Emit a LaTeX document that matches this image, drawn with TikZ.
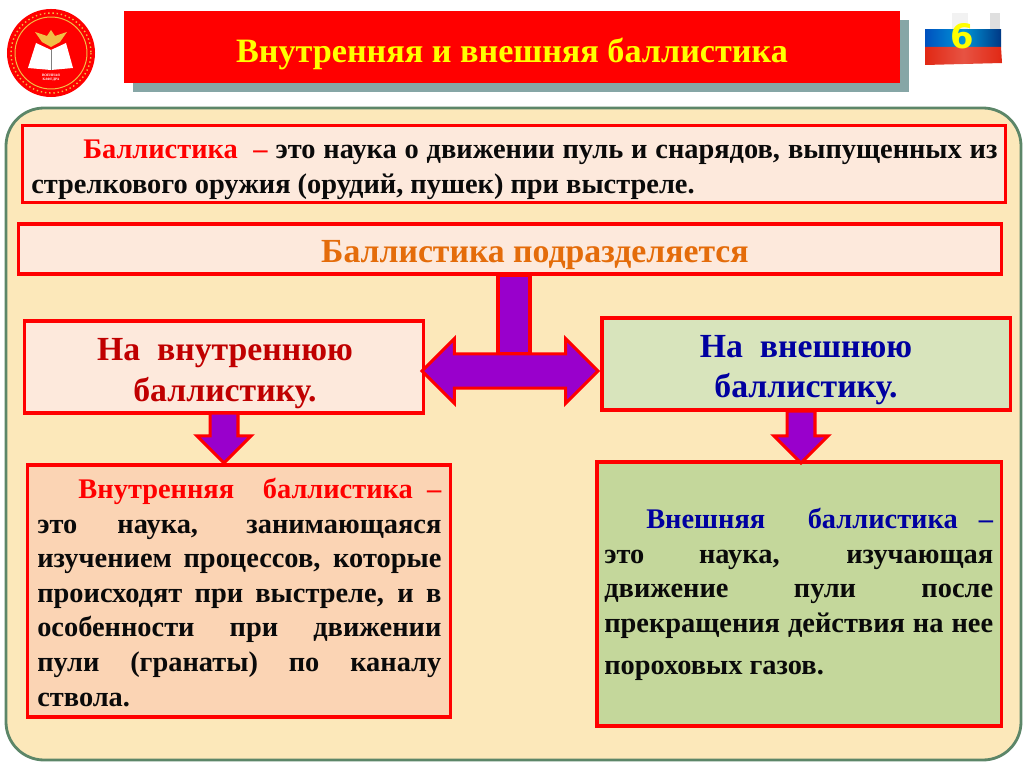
\documentclass[tikz,border=0pt]{standalone}
\usepackage{fontspec}
\setmainfont{Liberation Serif}
\setsansfont{DejaVu Sans}
\definecolor{panelfill}{RGB}{252,232,186}
\definecolor{panelline}{RGB}{92,134,104}
\definecolor{peach}{RGB}{253,233,220}
\definecolor{peachdark}{RGB}{251,212,180}
\definecolor{sage}{RGB}{216,228,188}
\definecolor{sagedark}{RGB}{196,215,155}
\definecolor{shadowgray}{RGB}{134,166,166}
\definecolor{arrowviolet}{RGB}{153,0,204}
\definecolor{textdark}{RGB}{10,10,10}
\definecolor{headorange}{RGB}{228,108,10}
\definecolor{headred}{RGB}{192,0,0}
\definecolor{headblue}{RGB}{0,0,160}
\definecolor{sloganyellow}{RGB}{255,255,0}
\definecolor{flagblue}{RGB}{0,80,190}
\definecolor{flagred}{RGB}{225,40,20}
\definecolor{logogold}{RGB}{240,190,70}
\usetikzlibrary{shapes.arrows,positioning}
\begin{document}
\begin{tikzpicture}[x=0.025cm,y=-0.025cm,
  box/.style={draw=red,line width=2.2pt,inner sep=0pt},
  body/.style={font=\fontsize{20.2}{24.6}\selectfont\bfseries,text=textdark,inner sep=0pt,align=justify},
  head/.style={font=\fontsize{24}{29}\selectfont\bfseries,inner sep=0pt,align=center},
  stem/.style={draw=red,line width=2.2pt,fill=arrowviolet,inner sep=0pt},
  downarrow/.style={single arrow,rotate=-90,draw=red,line width=2.2pt,fill=arrowviolet,
    inner sep=0pt,text height=0.62cm,text depth=0pt,single arrow head extend=0.33cm,minimum height=1.25cm},
  forkarrow/.style={double arrow,draw=red,line width=2.2pt,fill=arrowviolet,inner sep=0pt,
    text height=0.78cm,text depth=0pt,double arrow head extend=0.38cm,minimum height=4.4cm}
]
  \useasboundingbox (0,0) rectangle (1024,767);
  \fill[white] (0,0) rectangle (1024,767);
  % Logo
  \node[circle,fill=red,minimum size=2.2cm,inner sep=0pt] (logo) at (51,53) {};
  \draw[logogold,line width=1pt,dotted] (logo.center) circle (40);
  \draw[logogold,line width=0.7pt] (logo.center) circle (36);
  \fill[white] (28,68) -- (36,43) -- (51,50) -- (66,43) -- (73,68) -- (51,70) -- cycle;
  \draw[gray,line width=0.4pt] (51,50) -- (51,70);
  \fill[logogold] (35,32) -- (47,36) -- (51,30) -- (55,36) -- (67,32) -- (60,42) -- (51,47) -- (42,42) -- cycle;
  \node[font=\fontsize{2.5}{3}\selectfont\bfseries,text=white,align=center,inner sep=0pt] (logotext) at (51,78) {ВОЕННАЯ\\КАФЕДРА};
  % Title
  \fill[shadowgray] (133,20) rectangle (909,92);
  \node[box,draw=none,fill=red,minimum width=19.4cm,minimum height=1.8cm] (title) at (512,47) {};
  \node[font=\fontsize{24.3}{28}\selectfont\bfseries,text=sloganyellow,inner sep=0pt] (titletext) at (512,54) {Внутренняя и внешняя баллистика};
  % Flag
  \fill[white!90!gray] (952,13) rectangle (968,30);
  \fill[white!75!gray] (990,13) rectangle (1000,30);
  \shade[left color=flagblue,right color=flagblue!70!black,middle color=flagblue!60!cyan] (925,30) rectangle (1001,47);
  \shade[left color=flagred,right color=flagred,middle color=flagred!80!white] (925,47) -- (1001,47) -- (1002,63) -- (925,65) -- cycle;
  \node[font=\fontsize{24}{28}\selectfont\bfseries\sffamily,text=sloganyellow,inner sep=0pt] (slidenum) at (962,36) {6};
  % Panel
  \draw[panelline,fill=panelfill,line width=2pt,rounded corners=0.95cm] (6,108) rectangle (1021,760);
  % Definition
  \node[box,fill=peach,minimum width=24.55cm,minimum height=1.93cm] (defbox) at (514,164) {};
  \node[body,text width=24.15cm,anchor=north west] (deftext) at (31,140) {\hspace*{1.3cm}{\color{red}Баллистика\ \ –} это наука о движении пуль и снарядов, выпущенных из\linebreak стрелкового оружия (орудий, пушек) при выстреле.};
  % Subdivision
  \node[box,fill=peach,minimum width=24.55cm,minimum height=1.25cm] (subbox) at (510,249) {};
  \node[head,text=headorange] (subtext) at (535,255) {Баллистика подразделяется};
  % Inner heading
  \node[box,fill=peach,minimum width=9.95cm,minimum height=2.3cm] (innerbox) at (224,367) {};
  \node[head,text=headred] (innertext) at (225,373.5) {На\ \ внутреннюю\\баллистику.};
  % Outer heading
  \node[box,fill=sage,minimum width=10.2cm,minimum height=2.3cm] (outerbox) at (806,364) {};
  \node[head,text=headblue] (outertext) at (806,370) {На\ \ внешнюю\\баллистику.};
  % Inner text
  \node[box,fill=peachdark,minimum width=10.55cm,minimum height=6.3cm] (innerdef) at (239,591) {};
  \node[body,text width=10.1cm,anchor=north west] (innerdeftext) at (37,478) {\hspace*{1.03cm}{\color{red}Внутренняя\ \ баллистика –}\linebreak это наука, занимающаяся\linebreak изучением процессов, которые\linebreak происходят при выстреле, и в\linebreak особенности при движении\linebreak пули (гранаты) по каналу\linebreak ствола.};
  % Outer text
  \node[box,fill=sagedark,minimum width=10.1cm,minimum height=6.6cm] (outerdef) at (799,594) {};
  \node[body,text width=9.72cm,anchor=north west] (outerdeftext) at (604,508) {\hspace*{1.05cm}{\color{headblue}Внешняя\ \ баллистика –}\linebreak это наука, изучающая\linebreak движение пули после\linebreak \hbox to \linewidth{прекращения\hfil\ действия\hfil\ на\hfil\ нее}\\[5pt] пороховых газов.};
  % Arrows
  \node[stem,minimum width=0.8cm,minimum height=1.975cm] (forkstem) at (514,314.5) {};
  \node[forkarrow] (fork) at (510,371) {};
  \node[downarrow] (innerarrow) at (224,431) {};
  \node[downarrow,minimum height=1.3cm] (outerarrow) at (801,430) {};
\end{tikzpicture}
\end{document}
